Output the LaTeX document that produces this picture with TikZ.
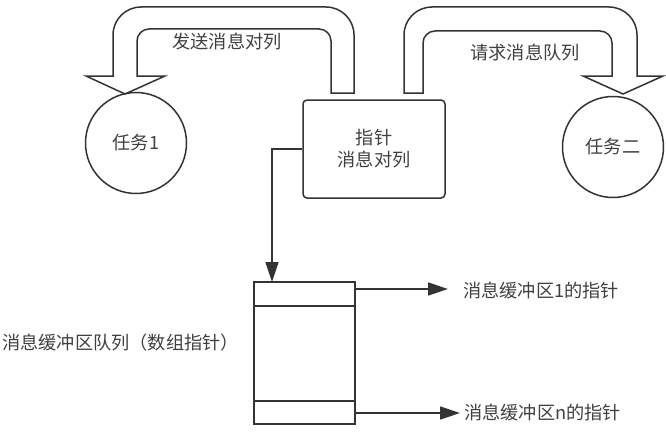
\documentclass[tikz,border=0pt]{standalone}
\usepackage{fontspec}
\setmainfont{Noto Sans CJK SC}
\usetikzlibrary{arrows.meta}
\definecolor{ln}{HTML}{333333}
\definecolor{tx}{HTML}{404040}
\begin{document}
\begin{tikzpicture}[x=1pt,y=-1pt,
  every node/.style={text=tx,font=\fontsize{18.2}{22}\selectfont},
  outl/.style={draw=ln,line width=1.5pt},
  arr/.style={draw=ln,line width=1.5pt,-{Triangle[length=20pt,width=13pt]}},
  task/.style={circle,outl,minimum size=101pt,inner sep=0pt},
  lbl/.style={inner sep=0pt}]
\useasboundingbox (0,0) rectangle (666,436);
% block arrow left (send)
\draw[outl] (354,93) -- (354,35) arc[start angle=0,end angle=-90,radius=28]
  -- (141,7) arc[start angle=-90,end angle=-180,radius=28]
  -- (113,76) -- (86,76) -- (125,94) -- (165,76) -- (137,76)
  -- (137,41) arc[start angle=180,end angle=270,radius=12]
  -- (319,29) arc[start angle=270,end angle=360,radius=12]
  -- (331,93) -- cycle;
% block arrow right (request)
\draw[outl] (404,93) -- (404,35) arc[start angle=180,end angle=270,radius=28]
  -- (609,7) arc[start angle=270,end angle=360,radius=28]
  -- (637,76) -- (663,76) -- (623,94) -- (583,76) -- (612,76)
  -- (612,43) arc[start angle=0,end angle=-90,radius=12]
  -- (435,31) arc[start angle=-90,end angle=-180,radius=12]
  -- (423,93) -- cycle;
\node[lbl] (send) at (227,42) {发送消息对列};
\node[lbl] (req) at (525,53) {请求消息队列};
% tasks
\node[task] (t1) at (136,143) {任务1};
\node[task] (t2) at (613,147) {任务二};
% pointer box
\node[outl,rounded corners=4pt,minimum width=142pt,minimum height=98pt,
  align=center,inner sep=0pt] (ptr) at (374,149) {指针\\消息对列};
% array
\node[outl,minimum width=101pt,minimum height=142pt,inner sep=0pt] (arr) at (304.5,353) {};
\draw[outl] (254,306) -- (355,306);
\draw[outl] (254,401) -- (355,401);
\coordinate (top) at (272,282);
\draw[arr] (ptr.west) -| (top);
% buffer pointers
\coordinate (p1) at (355,289);
\coordinate (p2) at (355,413);
\node[lbl,anchor=west,inner xsep=15pt] (b1) at (448,291) {消息缓冲区1的指针};
\node[lbl,anchor=west,inner xsep=4pt] (b2) at (460,413) {消息缓冲区n的指针};
\draw[arr] (p1) -- (p1 -| b1.west);
\draw[arr] (p2) -- (p2 -| b2.west);
\node[lbl,anchor=west] (q) at (2,343) {消息缓冲区队列（数组指针）};
\end{tikzpicture}
\end{document}
